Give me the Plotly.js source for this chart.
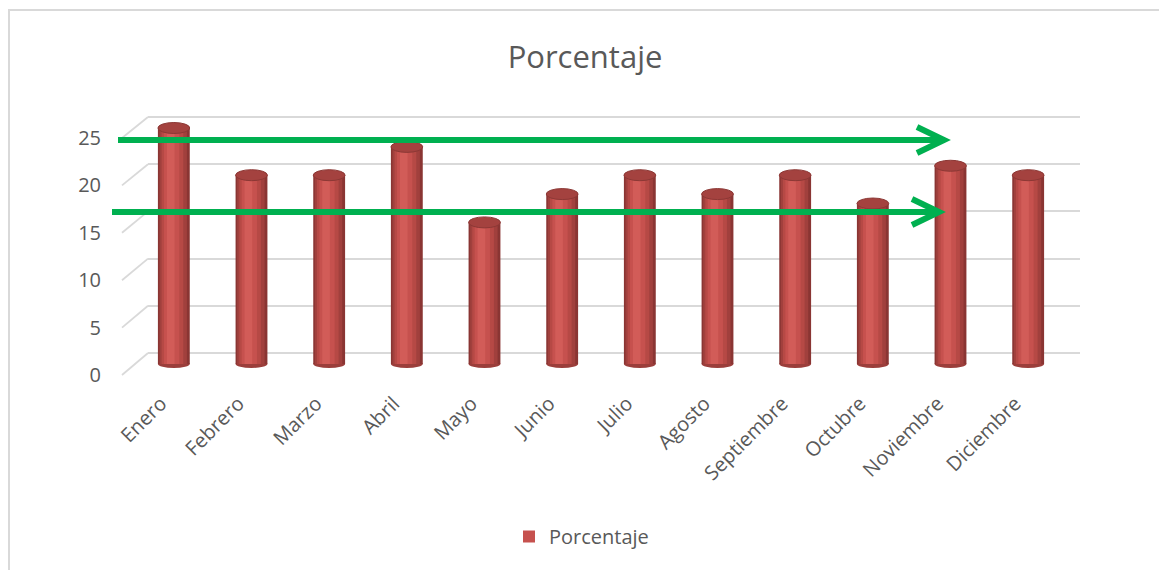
<!DOCTYPE html>
<html>
<head>
<meta charset="utf-8">
<script src="https://cdn.plot.ly/plotly-3.0.1.min.js"></script>
<style>
  html, body { margin: 0; padding: 0; background: #ffffff; }
  #chart { width: 1159px; height: 570px; }
</style>
</head>
<body>
<div id="chart"></div>
<script>
// Monthly percentages
const months = ['Enero', 'Febrero', 'Marzo', 'Abril', 'Mayo', 'Junio',
                'Julio', 'Agosto', 'Septiembre', 'Octubre', 'Noviembre', 'Diciembre'];
const values = [25, 20, 20, 23, 15, 18, 20, 18, 20, 17, 21, 20];
const yTicks = [0, 5, 10, 15, 20, 25];
const seriesName = 'Porcentaje';

const W = 1159, H = 570;
const fx = px => px / W;
const fy = py => 1 - py / H;

// Three planes of the 3-D box: front (labels), middle (cylinders), back wall (grid)
const FRONT = { x0: 122, x1: 1054, yBottom: 375, yTop: 138 };
const MID   = { x0: 135, x1: 1067, yBottom: 364, yTop: 128 };
const BACK  = { x0: 148, x1: 1080, yBottom: 353, yTop: 117 };
const Y_MAX = 25;

// The cylinder plane gets some headroom so caps and rounded bases are not clipped
const MID_LO = -1.5, MID_HI = 27;
const midPx = v => MID.yBottom - (MID.yBottom - MID.yTop) * v / Y_MAX;

// Back wall gets a small margin so the 0 and 25 grid lines sit inside it
const BACK_PAD = 3;
const backUnit = Y_MAX / (BACK.yBottom - BACK.yTop);

const GRID = '#d9d9d9';
const TEXT = '#595959';
const FONT = 'Open Sans, DejaVu Sans, sans-serif';

// Cylinder look: stacked overlay bars from the dark rim to the lit strip
const BAR_W = 0.41;
const shading = [
  { frac: 1.00, shift: 0.000, color: '#8a3533' },
  { frac: 0.86, shift: -0.008, color: '#a1403d' },
  { frac: 0.68, shift: -0.018, color: '#b64945' },
  { frac: 0.48, shift: -0.028, color: '#c6514e', legend: true },
  { frac: 0.24, shift: -0.040, color: '#d25c58' }
];

const traces = [];

// Anchors the back-wall grid subplot
traces.push({
  type: 'scatter', mode: 'markers',
  x: [0, 1], y: [0, Y_MAX],
  xaxis: 'x', yaxis: 'y',
  marker: { opacity: 0 }, showlegend: false, hoverinfo: 'skip'
});

// Carries the front-plane category labels
traces.push({
  type: 'scatter', mode: 'markers',
  x: months, y: values,
  xaxis: 'x2', yaxis: 'y2',
  marker: { opacity: 0 }, showlegend: false, hoverinfo: 'skip'
});

shading.forEach(s => traces.push({
  type: 'bar',
  x: months,
  y: values,
  xaxis: 'x3',
  yaxis: 'y3',
  width: s.frac * BAR_W,
  offset: -s.frac * BAR_W / 2 + s.shift,
  marker: { color: s.color, line: { width: 0 } },
  name: seriesName,
  showlegend: !!s.legend,
  hoverinfo: s.legend ? 'x+y' : 'skip'
}));

const pxPerUnitMid = (MID.yBottom - MID.yTop) / Y_MAX;
const capH = 11 / pxPerUnitMid;
const baseH = 8 / pxPerUnitMid;

const shapes = [];

// Left-side depth edges joining front and back grid levels
yTicks.forEach(v => {
  const yf = FRONT.yBottom - (FRONT.yBottom - FRONT.yTop) * v / Y_MAX;
  const yb = BACK.yBottom - (BACK.yBottom - BACK.yTop) * v / Y_MAX;
  shapes.push({
    type: 'line', xref: 'paper', yref: 'paper',
    x0: fx(FRONT.x0), y0: fy(yf), x1: fx(BACK.x0), y1: fy(yb),
    line: { color: GRID, width: 1.8 }, layer: 'below'
  });
});

// Rounded bottoms and top caps of the cylinders
values.forEach((v, i) => {
  shapes.push({
    type: 'circle', xref: 'x3', yref: 'y3', layer: 'below',
    x0: i - BAR_W / 2, x1: i + BAR_W / 2, y0: -baseH / 2, y1: baseH / 2,
    fillcolor: '#9b3e3b', line: { width: 0 }
  });
  shapes.push({
    type: 'circle', xref: 'x3', yref: 'y3', layer: 'above',
    x0: i - BAR_W / 2, x1: i + BAR_W / 2, y0: v - capH / 2, y1: v + capH / 2,
    fillcolor: '#a4423f', line: { color: '#8c3835', width: 1 }
  });
});

// Green reference arrows
const GREEN = '#00b050';
const arrows = [
  { xStart: 118, xTip: 944, y: 140, arm: 27, spread: 13 },
  { xStart: 112, xTip: 939, y: 212, arm: 27, spread: 13 }
];
arrows.forEach(a => {
  shapes.push({
    type: 'line', xref: 'paper', yref: 'paper', layer: 'above',
    x0: fx(a.xStart), y0: fy(a.y), x1: fx(a.xTip - 3), y1: fy(a.y),
    line: { color: GREEN, width: 6 }
  });
  const p = `M ${fx(a.xTip - a.arm)} ${fy(a.y - a.spread)} L ${fx(a.xTip)} ${fy(a.y)} L ${fx(a.xTip - a.arm)} ${fy(a.y + a.spread)}`;
  shapes.push({
    type: 'path', xref: 'paper', yref: 'paper', layer: 'above',
    path: p, line: { color: GREEN, width: 6 }
  });
});

// Outer chart frame (top and left edges)
shapes.push({
  type: 'line', xref: 'paper', yref: 'paper',
  x0: fx(8), y0: fy(10), x1: 1, y1: fy(10),
  line: { color: GRID, width: 2 }
});
shapes.push({
  type: 'line', xref: 'paper', yref: 'paper',
  x0: fx(9), y0: fy(10), x1: fx(9), y1: 0,
  line: { color: GRID, width: 2 }
});

const hidden = { showgrid: false, zeroline: false, showline: false, showticklabels: false, ticks: '' };

const layout = {
  width: W,
  height: H,
  margin: { l: 0, r: 0, t: 0, b: 0, pad: 0 },
  paper_bgcolor: '#ffffff',
  plot_bgcolor: 'rgba(0,0,0,0)',
  barmode: 'overlay',
  font: { family: FONT, color: TEXT },
  title: {
    text: seriesName,
    x: fx(585), xanchor: 'center',
    y: fy(57), yanchor: 'middle',
    font: { family: FONT, size: 31, color: TEXT }
  },
  // back wall grid
  xaxis: Object.assign({ domain: [fx(BACK.x0), fx(BACK.x1)], range: [0, 1], anchor: 'y' }, hidden),
  yaxis: {
    domain: [fy(BACK.yBottom + BACK_PAD), fy(BACK.yTop - BACK_PAD)],
    range: [-BACK_PAD * backUnit, Y_MAX + BACK_PAD * backUnit],
    anchor: 'x',
    tickvals: yTicks, showgrid: true, gridcolor: GRID, gridwidth: 2,
    zeroline: false, showline: false, showticklabels: false, ticks: ''
  },
  // front plane: axis labels
  xaxis2: {
    domain: [fx(FRONT.x0), fx(FRONT.x1)], anchor: 'y2', type: 'category',
    categoryarray: months, categoryorder: 'array', range: [-0.5, months.length - 0.5],
    showgrid: false, zeroline: false, showline: false, ticks: '',
    tickangle: -45, ticklabelstandoff: 12,
    tickfont: { family: FONT, size: 20, color: TEXT }
  },
  yaxis2: {
    domain: [fy(FRONT.yBottom), fy(FRONT.yTop)], range: [0, Y_MAX], anchor: 'x2',
    tickvals: yTicks, showgrid: false, zeroline: false, showline: false, ticks: '',
    ticklabelstandoff: 20,
    tickfont: { family: FONT, size: 20, color: TEXT }
  },
  // middle plane: cylinders
  xaxis3: Object.assign({
    domain: [fx(MID.x0), fx(MID.x1)], anchor: 'y3', type: 'category',
    categoryarray: months, categoryorder: 'array', range: [-0.5, months.length - 0.5]
  }, hidden),
  yaxis3: Object.assign({
    domain: [fy(midPx(MID_LO)), fy(midPx(MID_HI))], range: [MID_LO, MID_HI], anchor: 'x3'
  }, hidden),
  showlegend: true,
  legend: {
    x: fx(509), xanchor: 'left',
    y: fy(517), yanchor: 'top',
    orientation: 'h',
    bgcolor: 'rgba(0,0,0,0)',
    font: { family: FONT, size: 20, color: TEXT }
  },
  shapes: shapes
};

Plotly.newPlot('chart', traces, layout, { displayModeBar: false, staticPlot: true });
</script>
</body>
</html>
